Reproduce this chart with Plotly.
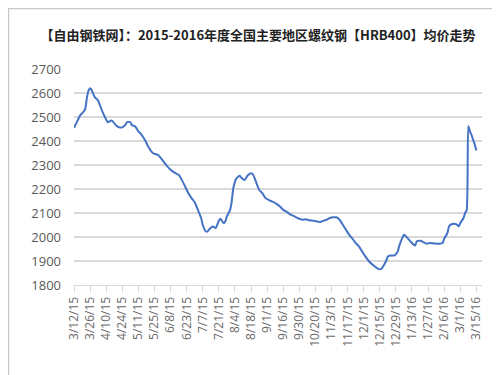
import plotly.graph_objects as go

title_text = "【自由钢铁网】：2015-2016年度全国主要地区螺纹钢【HRB400】均价走势"

tick_labels = ["3/12/15", "3/26/15", "4/10/15", "4/24/15", "5/11/15", "5/25/15",
               "6/8/15", "6/23/15", "7/7/15", "7/21/15", "8/4/15", "8/18/15",
               "9/1/15", "9/16/15", "9/30/15", "10/20/15", "11/3/15", "11/17/15",
               "12/1/15", "12/15/15", "12/29/15", "1/13/16", "1/27/16", "2/16/16",
               "3/1/16", "3/15/16"]
tick_index = [i * 10 for i in range(len(tick_labels))]

day_index = [0, 2, 4, 6, 7, 8, 9, 10, 11, 12, 13, 14, 15, 16, 18, 20, 21, 23, 24, 26,
             28, 30, 32, 33, 35, 36, 38, 40, 42, 44, 46, 48, 50, 52, 54, 56, 58, 60,
             62, 64, 65, 67, 69, 71, 73, 75, 77, 79, 80, 82, 83, 84, 86, 87, 88, 90,
             91, 93, 94, 95, 97, 98, 99, 101, 103, 104, 106, 108, 110, 111, 113, 115,
             117, 119, 122, 124, 126, 128, 130, 132, 134, 136, 138, 140, 142, 144, 146,
             149, 151, 153, 155, 157, 159, 161, 163, 165, 167, 169, 171, 173, 175, 177,
             179, 181, 183, 185, 187, 189, 191, 192, 194, 195, 197, 199, 201, 202, 204,
             205, 206, 209, 211, 212, 213, 215, 217, 219, 221, 224, 227, 229, 230, 232,
             233, 235, 237, 238, 239, 240, 242, 243, 244, 245, 246, 247, 248, 249, 250]
price = [2455, 2482, 2509, 2522, 2535, 2580, 2610, 2620, 2612, 2595, 2582, 2576, 2568,
         2551, 2517, 2489, 2478, 2485, 2482, 2466, 2457, 2457, 2468, 2479, 2478, 2466,
         2461, 2440, 2426, 2405, 2378, 2357, 2346, 2343, 2329, 2311, 2294, 2280, 2270,
         2262, 2259, 2238, 2211, 2183, 2162, 2145, 2113, 2079, 2050, 2023, 2023, 2032,
         2044, 2041, 2037, 2068, 2076, 2058, 2065, 2086, 2113, 2148, 2204, 2245, 2255,
         2247, 2237, 2257, 2266, 2263, 2232, 2197, 2183, 2162, 2151, 2145, 2137, 2127,
         2113, 2106, 2095, 2089, 2082, 2076, 2072, 2074, 2070, 2068, 2065, 2062, 2068,
         2072, 2079, 2082, 2082, 2072, 2051, 2030, 2009, 1993, 1975, 1961, 1940, 1919,
         1901, 1887, 1877, 1867, 1867, 1877, 1901, 1919, 1923, 1923, 1937, 1961, 1996,
         2009, 2004, 1982, 1968, 1965, 1982, 1984, 1979, 1972, 1975, 1973, 1972, 1975,
         1993, 2016, 2044, 2054, 2054, 2051, 2044, 2058, 2079, 2100, 2112, 2462, 2440,
         2425, 2405, 2385, 2360]

y_ticks = [1800, 1900, 2000, 2100, 2200, 2300, 2400, 2500, 2600, 2700]

fig = go.Figure()
fig.add_trace(go.Scatter(
    x=day_index, y=price, mode="lines",
    line=dict(color="#4472C4", width=2, shape="spline", smoothing=0.6),
    hoverinfo="skip", showlegend=False,
))

L, R, T, B = 66, 26, 61, 98
pw = 500 - L - R
ph = 375 - T - B

fig.update_layout(
    width=500, height=375,
    margin=dict(l=L, r=R, t=T, b=B, pad=0),
    paper_bgcolor="white", plot_bgcolor="white",
    title=dict(text=title_text, x=0.5, xref="container", xanchor="center",
               y=1 - 27 / 375, yref="container", yanchor="middle",
               pad=dict(t=0, b=0, l=0, r=0),
               font=dict(family="Noto Sans CJK SC", size=13, color="#222222",
                         weight=600)),
    xaxis=dict(
        range=[0, 253.5], tickmode="array", tickvals=tick_index, ticktext=tick_labels,
        tickangle=-90, ticks="outside", ticklen=6, tickcolor="#d9d9d9", tickwidth=1,
        showline=True, linecolor="#d9d9d9", linewidth=1,
        showgrid=False, zeroline=False,
        tickfont=dict(family="Open Sans", size=12, color="#6a6a6a"),
    ),
    yaxis=dict(
        range=[1800, 2700], tickmode="array", tickvals=y_ticks,
        showgrid=True, gridcolor="#d9d9d9", gridwidth=1.5,
        zeroline=False, showline=False, ticks="",
        tickfont=dict(family="Open Sans", size=13, color="#595959"),
        ticklabelstandoff=12,
    ),
    shapes=[dict(type="rect", xref="paper", yref="paper",
                 x0=-(L - 0.5) / pw, x1=1 + (R - 0.5) / pw,
                 y0=-(B - 0.5) / ph, y1=1 + (T - 0.5) / ph,
                 line=dict(color="#c8c8c8", width=1.5), fillcolor="rgba(0,0,0,0)")],
)

fig.write_html("out.html")
